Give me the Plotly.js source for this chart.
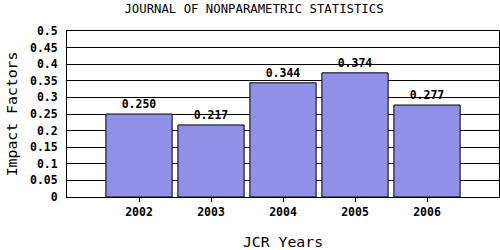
<!DOCTYPE html>
<html>
<head>
<meta charset="utf-8">
<script src="https://cdn.plot.ly/plotly-3.0.1.min.js"></script>
<style>html,body{margin:0;padding:0;background:#fff;}#chart{width:500px;height:250px;}</style>
</head>
<body>
<div id="chart"></div>
<script>
const years = ["2002", "2003", "2004", "2005", "2006"];
const impactFactors = [0.250, 0.217, 0.344, 0.374, 0.277];
const yTickVals = [0, 0.05, 0.1, 0.15, 0.2, 0.25, 0.3, 0.35, 0.4, 0.45, 0.5];
const yTickText = ["0", "0.05", "0.1", "0.15", "0.2", "0.25", "0.3", "0.35", "0.4", "0.45", "0.5"];

const mono = "DejaVu Sans Mono, Liberation Mono, monospace";

const trace = {
  type: "bar",
  x: years,
  y: impactFactors,
  width: 0.92,
  marker: {color: "rgb(144,144,232)", line: {color: "#000", width: 1}},
  texttemplate: "%{y:.3f}",
  textposition: "outside",
  cliponaxis: false,
  textfont: {family: mono, size: 11.5, color: "#000", weight: "bold"},
  hoverinfo: "none"
};

const layout = {
  width: 500, height: 250,
  margin: {l: 67, r: 1, t: 31, b: 53},
  paper_bgcolor: "#fff", plot_bgcolor: "#fff",
  showlegend: false,
  title: {text: "JOURNAL OF NONPARAMETRIC STATISTICS", x: 0.508, xanchor: "center", y: 0.965, yanchor: "middle",
          font: {family: mono, size: 12.3, color: "#000"}},
  xaxis: {
    type: "category", range: [-1, 5],
    showgrid: false, showline: true, linecolor: "#000", linewidth: 1, mirror: true,
    ticks: "outside", ticklen: 4, tickcolor: "#000",
    tickfont: {family: mono, size: 11.5, color: "#000", weight: "bold"},
    title: {text: "JCR Years", font: {family: mono, size: 14.8, color: "#000"}, standoff: 20}
  },
  yaxis: {
    range: [0, 0.5], tickvals: yTickVals, ticktext: yTickText,
    showgrid: true, gridcolor: "#000", gridwidth: 1,
    zeroline: false, showline: true, linecolor: "#000", linewidth: 1, mirror: true,
    ticks: "", ticklabelstandoff: 6,
    tickfont: {family: mono, size: 11.5, color: "#000", weight: "bold"},
    title: {text: "Impact Factors", font: {family: mono, size: 14.8, color: "#000"}, standoff: 8}
  },
  bargap: 0.08
};

Plotly.newPlot("chart", [trace], layout, {staticPlot: true, displayModeBar: false});
</script>
</body>
</html>
